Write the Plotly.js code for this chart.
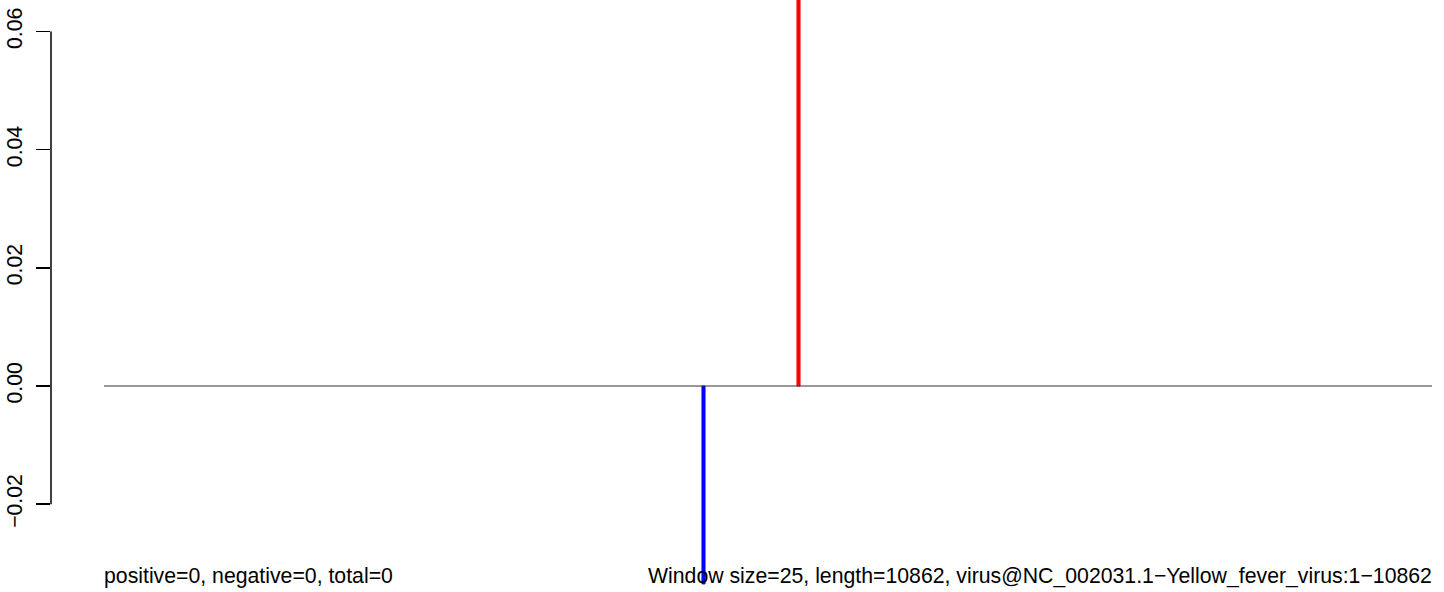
<!DOCTYPE html>
<html>
<head>
<meta charset="utf-8">
<script src="https://cdn.plot.ly/plotly-3.0.1.min.js"></script>
<style>html,body{margin:0;padding:0;background:#fff;}#chart{width:1444px;height:592px;}</style>
</head>
<body>
<div id="chart"></div>
<script>
// Data
var windowSize = 25;
var seqStart = 1;
var seqLength = 10862;
var positions = [4904, 5681];
var values = [-0.0335, 0.0667];
var barColors = ['#0000ff', '#ff0000'];
var yTickVals = [-0.02, 0.00, 0.02, 0.04, 0.06];
var yTickText = ['\u22120.02', '0.00', '0.02', '0.04', '0.06'];
var leftLabel = 'positive=0, negative=0, total=0';
var rightLabel = 'Window size=' + windowSize + ', length=' + seqLength + ', virus@NC_002031.1\u2212Yellow_fever_virus:' + seqStart + '\u2212' + seqLength;

var font = {family: 'Liberation Sans, Arial, sans-serif', size: 21.25, color: '#000'};

var traces = [
  {
    type: 'scatter', mode: 'lines',
    x: [seqStart, seqLength], y: [0, 0],
    line: {color: '#333333', width: 1},
    hoverinfo: 'skip', showlegend: false
  },
  {
    type: 'bar',
    x: positions, y: values, width: windowSize,
    marker: {color: barColors, line: {width: 1, color: barColors}},
    showlegend: false
  }
];

var layout = {
  width: 1444, height: 592,
  margin: {l: 51, r: 0, t: 0, b: 0, pad: 0},
  paper_bgcolor: '#fff', plot_bgcolor: '#fff',
  font: font,
  showlegend: false,
  xaxis: {
    range: [-432.5, 10960.1],
    visible: false, showgrid: false, zeroline: false
  },
  yaxis: {
    range: [-0.03487, 0.06534],
    showgrid: false, zeroline: false, showline: false,
    tickmode: 'array', tickvals: yTickVals, ticktext: yTickText,
    ticks: 'outside', ticklen: 14, tickwidth: 1.5, tickcolor: '#000',
    tickangle: -90, tickfont: font, ticklabelstandoff: 6
  },
  shapes: [
    {type: 'line', xref: 'paper', yref: 'y', x0: 0, x1: 0,
     y0: yTickVals[0], y1: yTickVals[yTickVals.length - 1],
     line: {color: '#000', width: 1.5}}
  ],
  annotations: [
    {text: leftLabel, x: seqStart, xref: 'x', xanchor: 'left', xshift: -2,
     y: 0.027, yref: 'paper', yanchor: 'middle', showarrow: false, font: font},
    {text: rightLabel, x: seqLength, xref: 'x', xanchor: 'right', xshift: 2,
     y: 0.027, yref: 'paper', yanchor: 'middle', showarrow: false, font: font}
  ]
};

Plotly.newPlot('chart', traces, layout, {staticPlot: true, displayModeBar: false});
</script>
</body>
</html>
